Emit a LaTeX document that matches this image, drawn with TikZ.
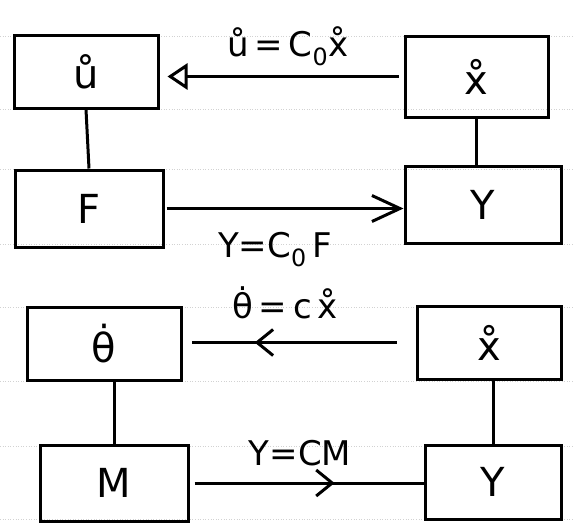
\documentclass[tikz,border=0pt]{standalone}
\usepackage{fontspec}
\setmainfont{DejaVu Sans}
\usetikzlibrary{arrows.meta,decorations.markings}
\begin{document}
\begin{tikzpicture}[x=1pt,y=-1pt,
  box/.style={draw,line width=3pt,inner sep=0pt,font=\fontsize{40}{46}\selectfont},
  con/.style={line width=3pt},
  lbl/.style={font=\fontsize{34}{40}\selectfont,inner sep=0pt},
  rule/.style={gray!35,dotted,line width=0.6pt},
  barbtip/.tip={Straight Barb[length=16pt,width=26pt,line width=3pt]},
  longbarb/.tip={Straight Barb[length=28pt,width=26pt,line width=3pt]},
  midbarb/.style={postaction={decorate},decoration={markings,mark=at position #1 with {\arrow{barbtip}}}}
]
\useasboundingbox (0,0) rectangle (574,528);
% faint paper ruling
\foreach \yy in {36,109,169,244,307,381,446,519}
  \draw[rule] (0,\yy) -- (574,\yy);
% boxes
\node[box,minimum width=144pt,minimum height=73pt] (u) at (86,71.5) {ů};
\node[box,minimum width=143pt,minimum height=81pt] (xr) at (476.5,76.5) {x̊};
\node[box,minimum width=148pt,minimum height=77pt] (F) at (89,208.5) {F};
\node[box,minimum width=156pt,minimum height=77pt] (Y1) at (483,204.5) {Y};
\node[box,minimum width=154pt,minimum height=73pt] (th) at (104,343.5) {θ̇};
\node[box,minimum width=144pt,minimum height=73pt] (xd) at (489,342.5) {x̊};
\node[box,minimum width=148pt,minimum height=76pt] (M) at (114,483) {M};
\node[box,minimum width=136pt,minimum height=74pt] (Y2) at (493,482) {Y};
% labels
\node[lbl] (l1) at (288,46) {ů\,=\,C\textsubscript{0}x̊};
\node[lbl] (l2) at (275,250) {Y=C\textsubscript{0}\,F};
\node[lbl] (l3) at (285,303) {θ̇\,=\,c\,x̊};
\node[lbl] (l4) at (300,453) {Y=CM};
% connectors
\draw[con,-{Triangle[open,length=20pt,width=26pt,line width=3pt]},shorten <=5pt,shorten >=8pt] (xr.west) -- (xr.west -| u.east);
\draw[con,-longbarb,shorten <=2pt] (F.east) -- (F.east -| Y1.west);
\draw[con,midbarb=0.69,shorten <=19pt,shorten >=9pt] (xd.west) -- (xd.west -| th.east);
\draw[con,midbarb=0.62,shorten <=5pt] (M.east) -- (M.east -| Y2.west);
\draw[con] (u.south) -- (F.north);
\draw[con] (xr.south) -- (xr.south |- Y1.north);
\draw[con] (M.north) -- (M.north |- th.south);
\draw[con] (Y2.north) -- (Y2.north |- xd.south);
\end{tikzpicture}
\end{document}
